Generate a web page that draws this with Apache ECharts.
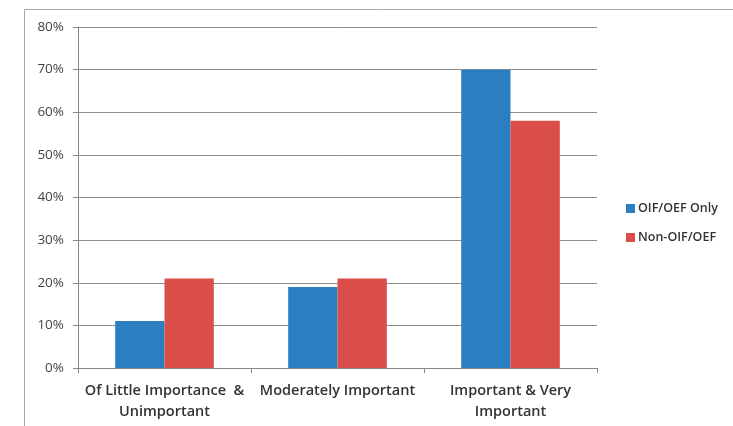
<!DOCTYPE html>
<html>
<head>
<meta charset="utf-8">
<script src="https://cdn.jsdelivr.net/npm/echarts@6/dist/echarts.min.js"></script>
<style>
  html, body { margin: 0; padding: 0; background: #fff; }
  #chart { width: 733px; height: 426px; }
</style>
</head>
<body>
<div id="chart"></div>
<script>
// Share of respondents by importance rating, per group
const categories = ['Of Little Importance  &\nUnimportant', 'Moderately Important', 'Important & Very\nImportant'];
const oifOefOnly = [11, 19, 70];
const nonOifOef = [21, 21, 58];
const seriesNames = ['OIF/OEF Only', 'Non-OIF/OEF'];
const yTicks = { min: 0, max: 80, interval: 10 };

const chart = echarts.init(document.getElementById('chart'), null, { renderer: 'canvas' });
const fontFamily = '"Open Sans", Lato, sans-serif';

chart.setOption({
  animation: false,
  backgroundColor: '#ffffff',
  graphic: [{
    type: 'rect',
    shape: { x: 24.5, y: 9.5, width: 760, height: 460 },
    style: { fill: 'none', stroke: '#a6a6a6', lineWidth: 1 },
    silent: true
  }],
  grid: { left: 78, right: 136, top: 27, bottom: 58, containLabel: false },
  legend: {
    orient: 'vertical',
    left: 621,
    top: 197,
    itemWidth: 9,
    itemHeight: 9,
    itemGap: 16,
    icon: 'rect',
    textStyle: { fontFamily, fontSize: 12.5, fontWeight: 600, color: '#333', padding: [0, 0, 0, -2] },
    data: seriesNames
  },
  xAxis: {
    type: 'category',
    data: categories,
    axisLine: { lineStyle: { color: '#888', width: 1 } },
    axisTick: { show: true, length: 5, lineStyle: { color: '#888' } },
    axisLabel: {
      fontFamily, fontSize: 14.5, fontWeight: 600, color: '#333',
      margin: 12, lineHeight: 21, interval: 0
    }
  },
  yAxis: {
    type: 'value',
    min: yTicks.min, max: yTicks.max, interval: yTicks.interval,
    axisLine: { show: true, lineStyle: { color: '#888', width: 1 } },
    axisTick: { show: true, length: 5, lineStyle: { color: '#888' } },
    splitLine: { lineStyle: { color: '#8c8c8c', width: 1 } },
    axisLabel: {
      fontFamily, fontSize: 13.5, color: '#444', margin: 14,
      formatter: v => v + '%'
    }
  },
  series: [
    {
      name: seriesNames[0], type: 'bar', data: oifOefOnly,
      barGap: '0%', barCategoryGap: '43%',
      itemStyle: { color: '#2b7ec0' }
    },
    {
      name: seriesNames[1], type: 'bar', data: nonOifOef,
      barGap: '0%', barCategoryGap: '43%',
      itemStyle: { color: '#da4e49' }
    }
  ]
});
</script>
</body>
</html>
